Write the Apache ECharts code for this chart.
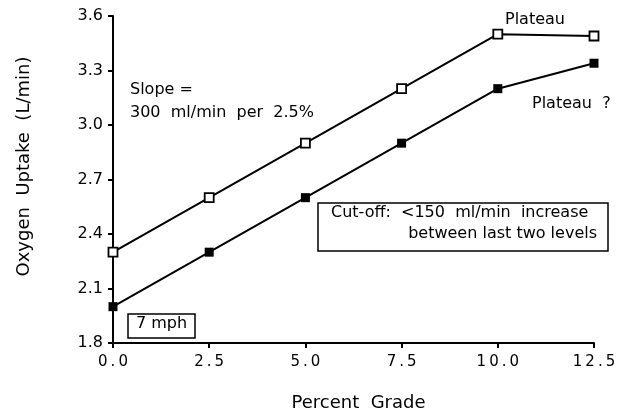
<!DOCTYPE html>
<html>
<head>
<meta charset="utf-8">
<script src="https://cdn.jsdelivr.net/npm/echarts@6/dist/echarts.min.js"></script>
<style>
  html, body { margin: 0; padding: 0; background: #fff; }
  #chart { width: 625px; height: 417px; }
</style>
</head>
<body>
<div id="chart"></div>
<script>
// 坡度 (%)
var grades = [0, 2.5, 5, 7.5, 10, 12.5]
// 空心方块：有平台
var openVO2 = [2.3, 2.6, 2.9, 3.2, 3.5, 3.49]
// 实心方块：平台？
var filledVO2 = [2.0, 2.3, 2.6, 2.9, 3.2, 3.34]

var FONT = '"DejaVu Sans", "Liberation Sans", Arial, sans-serif'
var TXT = '16px ' + FONT

var chart = echarts.init(document.getElementById('chart'))

function pairs(xs, ys) {
  return xs.map(function(x, i) { return [x, ys[i]] })
}

chart.setOption({
  animation: false,
  grid: { left: 113, right: 31, top: 16, bottom: 73 },
  xAxis: {
    type: 'value',
    min: 0, max: 12.5, interval: 2.5,
    name: 'Percent  Grade',
    nameLocation: 'middle',
    nameGap: 51,
    nameTextStyle: { color: '#000', fontFamily: FONT, fontSize: 18, padding: [0, 0, 0, 10] },
    axisLine: { lineStyle: { color: '#000', width: 2 } },
    axisTick: { length: 5, lineStyle: { color: '#000', width: 2 } },
    axisLabel: {
      color: '#000', fontFamily: FONT, fontSize: 15, margin: 12,
      formatter: function(v) { return v.toFixed(1).split('').join('\u2009') }
    },
    splitLine: { show: false }
  },
  yAxis: {
    type: 'value',
    min: 1.8, max: 3.6, interval: 0.3,
    name: 'Oxygen  Uptake  (L/min)',
    nameLocation: 'middle',
    nameGap: 80,
    nameTextStyle: { color: '#000', fontFamily: FONT, fontSize: 18, padding: [0, 0, 0, 26] },
    axisLine: { lineStyle: { color: '#000', width: 2 } },
    axisTick: { length: 5, lineStyle: { color: '#000', width: 2 } },
    axisLabel: {
      color: '#000', fontFamily: FONT, fontSize: 16, margin: 10,
      formatter: function(v) { return v.toFixed(1) }
    },
    splitLine: { show: false }
  },
  series: [
    {
      type: 'line',
      data: pairs(grades, openVO2),
      symbol: 'rect',
      symbolSize: 9,
      itemStyle: { color: '#fff', borderColor: '#000', borderWidth: 1.8 },
      lineStyle: { color: '#000', width: 2 },
      z: 3
    },
    {
      type: 'line',
      data: pairs(grades, filledVO2),
      symbol: 'rect',
      symbolSize: 9,
      itemStyle: { color: '#000', borderColor: '#000', borderWidth: 0 },
      lineStyle: { color: '#000', width: 2 },
      z: 3
    }
  ],
  graphic: [
    { type: 'text', x: 130, y: 82, style: { text: 'Slope =', font: TXT, fill: '#000' } },
    { type: 'text', x: 130, y: 105, style: { text: '300  ml/min  per  2.5%', font: TXT, fill: '#000' } },
    { type: 'text', x: 505, y: 12, style: { text: 'Plateau', font: TXT, fill: '#000' } },
    { type: 'text', x: 532, y: 96, style: { text: 'Plateau  ?', font: TXT, fill: '#000' } },
    { type: 'rect', shape: { x: 318, y: 203, width: 290, height: 48 }, style: { fill: '#fff', stroke: '#000', lineWidth: 1.5 } },
    { type: 'text', x: 331, y: 205, style: { text: 'Cut-off:  <150  ml/min  increase', font: TXT, fill: '#000' } },
    { type: 'text', x: 597, y: 226, style: { text: 'between last two levels', font: TXT, fill: '#000', align: 'right' } },
    { type: 'rect', shape: { x: 128, y: 314, width: 67, height: 24 }, style: { fill: '#fff', stroke: '#000', lineWidth: 1.5 } },
    { type: 'text', x: 136, y: 316, style: { text: '7 mph', font: TXT, fill: '#000' } }
  ]
})
</script>
</body>
</html>
